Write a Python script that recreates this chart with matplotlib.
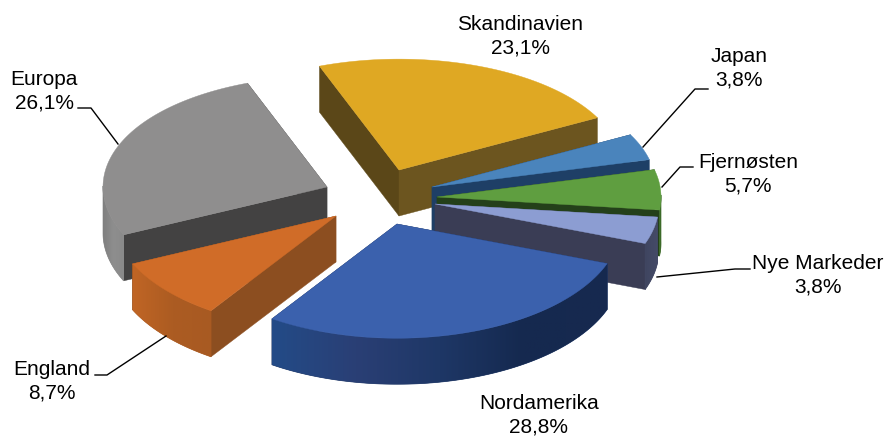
import matplotlib
matplotlib.use('Agg')
import matplotlib.pyplot as plt
from matplotlib import patches
from matplotlib.colors import LinearSegmentedColormap
import numpy as np

plt.rcParams['font.family'] = ['Liberation Sans', 'DejaVu Sans']

# data, clockwise from the Skandinavien slice
categories = ['Skandinavien', 'Japan', 'Fjernøsten', 'Nye Markeder', 'Nordamerika', 'England', 'Europa']
values = [23.1, 3.8, 5.7, 3.8, 28.8, 8.7, 26.1]

# look of the slices
top_colors = ['#DFA823', '#4A84BC', '#5F9E40', '#8C9DD2', '#3B61AD', '#D06C28', '#8F8E8E']
side_start = ['#5B4718', '#1E3F66', '#24401A', '#3A3D55', '#17294F', '#8C4E20', '#434242']
side_end = ['#6C551F', '#1E3F66', '#24401A', '#3A3D55', '#17294F', '#8C4E20', '#434242']
rim_stops = [['#6C551F', '#6C551F'],
             ['#2F5F90', '#2F5F90'],
             ['#3C6A28', '#3C6A28'],
             ['#3F4560', '#454B68'],
             ['#234B87', '#2A3F75', '#1E3766', '#15294F', '#17294F'],
             ['#C06525', '#AC5C22', '#A85A22'],
             ['#7F7F7F', '#8E8E8E', '#8A8A8A']]
# where the tip of each exploded slice lands on the page
tips = [(399, 170), (432, 187), (437, 197), (435, 204), (397, 224), (336, 216), (327, 187)]
draw_order = [0, 1, 2, 3, 6, 5, 4]

radius = 224
squash = 0.51
far_squash = 0.015
depth = 46
start_angle = 339.2

# label text, centre of the text, and the leader line
labels = ['Skandinavien\n23,1%', 'Japan\n3,8%', 'Fjernøsten\n5,7%', 'Nye Markeder\n3,8%',
          'Nordamerika\n28,8%', 'England\n8,7%', 'Europa\n26,1%']
label_pos = [(520, 36), (739, 68), (748, 174), (818, 275), (539, 415), (52, 381), (44, 91)]
leaders = [None,
           [(643, 147), (695, 89), (708, 89)],
           [(662, 187), (680, 167), (693, 167)],
           [(657, 277), (735, 269), (750, 269)],
           None,
           [(166, 336), (107, 375), (95, 375)],
           [(118, 144), (91, 108), (78, 108)]]

z = [1]


def next_z():
    z[0] += 1
    return z[0]


def rim_point(tip, angle):
    rad = np.radians(angle)
    c = np.cos(rad)
    return tip[0] + radius * np.sin(rad), tip[1] - radius * (squash - far_squash * np.maximum(c, 0)) * c


def draw_slice(ax, i, a0, a1):
    tip = tips[i]
    angles = np.linspace(a0, a1, 120)
    xs, ys = rim_point(tip, angles)

    # side faces, the far one goes first
    x0, y0 = rim_point(tip, a0)
    x1, y1 = rim_point(tip, a1)
    faces = [(y0, [tip, (x0, y0), (x0, y0 + depth), (tip[0], tip[1] + depth)], side_start[i]),
             (y1, [tip, (x1, y1), (x1, y1 + depth), (tip[0], tip[1] + depth)], side_end[i])]
    faces.sort(key=lambda f: f[0])
    for _, pts, col in faces:
        ax.add_patch(patches.Polygon(pts, closed=True, facecolor=col, edgecolor=col,
                                     linewidth=0.3, zorder=next_z()))

    # rim, only the part that faces the viewer, shaded left to right
    facing = np.cos(np.radians(angles)) < 0.02
    if facing.sum() > 1:
        fx, fy = xs[facing], ys[facing]
        pts = list(zip(fx, fy)) + list(zip(fx[::-1], fy[::-1] + depth))
        cmap = LinearSegmentedColormap.from_list('rim', rim_stops[i])
        # the plain polygon under the gradient gives the soft edge
        ax.add_patch(patches.Polygon(pts, closed=True, facecolor=cmap(0.5), edgecolor=cmap(0.5),
                                     linewidth=0.5, zorder=next_z()))
        shade = np.linspace(0, 1, 256).reshape(1, -1)
        im = ax.imshow(shade, cmap=cmap, aspect='auto', zorder=next_z(),
                       extent=(fx.min(), fx.max(), fy.max() + depth, fy.min()))
        im.set_clip_path(patches.Polygon(pts, closed=True, transform=ax.transData))

    top = [tip] + list(zip(xs, ys))
    ax.add_patch(patches.Polygon(top, closed=True, facecolor=top_colors[i], edgecolor=top_colors[i],
                                 linewidth=0.3, zorder=next_z()))


fig = plt.figure(figsize=(8.85, 4.37), dpi=100)
ax = fig.add_axes([0, 0, 1, 1])
ax.axis('off')

sweep = np.array(values) / sum(values) * 360
ends = start_angle + np.cumsum(sweep)
starts = ends - sweep

for i in draw_order:
    draw_slice(ax, i, starts[i], ends[i])

ax.set_xlim(0, 885)
ax.set_ylim(437, 0)

for i in range(len(categories)):
    if leaders[i] is not None:
        lx, ly = zip(*leaders[i])
        ax.plot(lx, ly, color='black', linewidth=1.0, zorder=500)
    ax.text(label_pos[i][0], label_pos[i][1], labels[i], ha='center', va='center',
            fontsize=15, color='black', linespacing=1.3, zorder=600)

fig.savefig('out.png', dpi=100)
